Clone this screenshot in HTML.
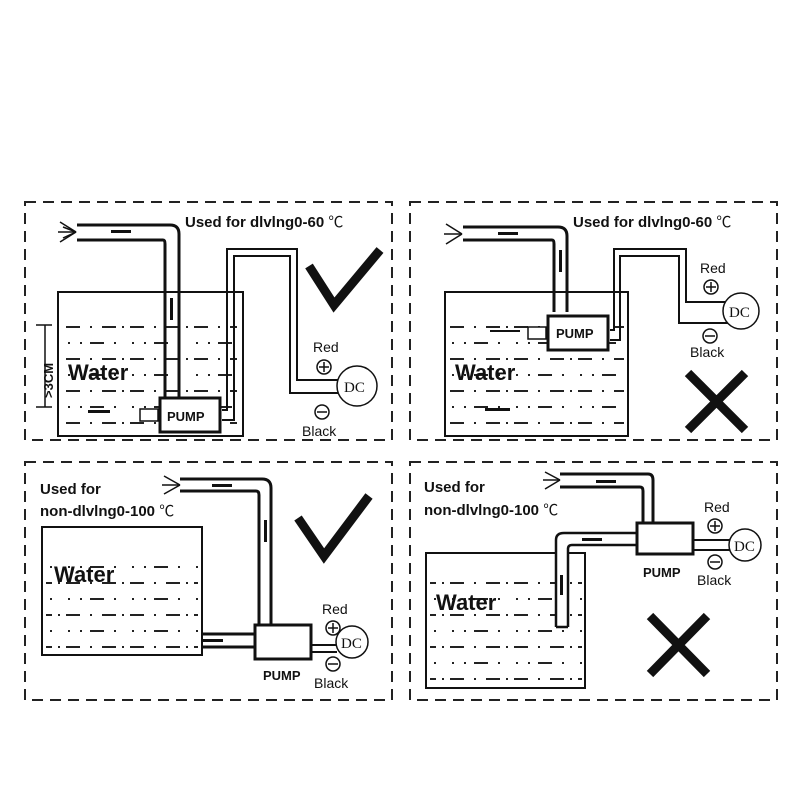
<!DOCTYPE html>
<html><head><meta charset="utf-8"><style>
body{margin:0;background:#fff}
svg{display:block}
text{font-family:"Liberation Sans",Arial,sans-serif;fill:#111}
.b{font-weight:bold}
.n{font-weight:normal;font-family:"Liberation Sans","Noto Sans CJK SC",sans-serif}
.dc{font-family:"Liberation Serif",serif;font-size:15px}
</style></head><body>
<svg width="800" height="800" viewBox="0 0 800 800" xmlns="http://www.w3.org/2000/svg">
<defs>
<pattern id="w" x="0" y="0" width="64" height="32" patternUnits="userSpaceOnUse">
<rect x="2" y="6" width="14" height="2" fill="#222"/>
<rect x="26" y="6" width="2" height="2" fill="#222"/>
<rect x="38" y="6" width="14" height="2" fill="#222"/>
<rect x="58" y="6" width="2" height="2" fill="#222"/>
<rect x="4" y="22" width="2" height="2" fill="#222"/>
<rect x="16" y="22" width="2" height="2" fill="#222"/>
<rect x="26" y="22" width="14" height="2" fill="#222"/>
<rect x="50" y="22" width="2" height="2" fill="#222"/>
</pattern>
</defs>
<g fill="none" stroke="#222" stroke-width="2" stroke-dasharray="11,7">
<rect x="25" y="202" width="367" height="238"/>
<rect x="410" y="202" width="367" height="238"/>
<rect x="25" y="462" width="367" height="238"/>
<rect x="410" y="462" width="367" height="238"/>
</g>

<!-- Panel 1 -->
<text x="185" y="227" class="b" font-size="15">Used for dlvlng0-60 <tspan class="n">℃</tspan></text>
<rect x="58" y="292" width="185" height="144" fill="none" stroke="#111" stroke-width="2"/>
<rect x="62" y="318" width="175" height="112" fill="url(#w)"/>
<text x="68" y="380" class="b" font-size="22">Water</text>
<path d="M77 225 H170 Q179 225 179 234 V398 M77 240 H163 Q165 240 165 244 V398" fill="none" stroke="#111" stroke-width="3"/>
<rect x="111" y="230" width="20" height="3" fill="#111"/>
<rect x="170" y="298" width="3" height="22" fill="#111"/>
<g stroke="#111" stroke-width="1.5"><line x1="76" y1="232" x2="60" y2="222"/><line x1="76" y1="232" x2="58" y2="232"/><line x1="76" y1="232" x2="60" y2="242"/><line x1="76" y1="232" x2="63" y2="227"/><line x1="76" y1="232" x2="63" y2="238"/></g>
<rect x="160" y="398" width="60" height="34" fill="#fff" stroke="#111" stroke-width="3"/>
<text x="167" y="421" class="b" font-size="13">PUMP</text>
<rect x="140" y="409" width="18" height="12" fill="#fff" stroke="#111" stroke-width="1.5"/>
<rect x="88" y="410" width="22" height="3" fill="#111"/>
<path d="M222 410 H227 V249 H297 V380 H338 M222 420 H234 V256 H290 V393 H340" fill="none" stroke="#111" stroke-width="2"/>
<circle cx="357" cy="386" r="20" fill="#fff" stroke="#111" stroke-width="1.5"/>
<text x="344" y="392" class="dc">DC</text>
<text x="313" y="352" font-size="14">Red</text>
<circle cx="324" cy="367" r="7" fill="none" stroke="#111" stroke-width="1.5"/><path d="M319 367h10M324 362v10" stroke="#111" stroke-width="1.5"/>
<circle cx="322" cy="412" r="7" fill="none" stroke="#111" stroke-width="1.5"/><path d="M317 412h10" stroke="#111" stroke-width="1.5"/>
<text x="302" y="436" font-size="14">Black</text>
<path d="M36 325 H52 M36 407 H52 M45 325 V407" stroke="#111" stroke-width="1.5"/>
<text transform="translate(53,398) rotate(-90)" class="b" font-size="13">&gt;3CM</text>
<path d="M309 266 L334 305 L380 250" fill="none" stroke="#111" stroke-width="9"/>

<!-- Panel 2 -->
<text x="573" y="227" class="b" font-size="15">Used for dlvlng0-60 <tspan class="n">℃</tspan></text>
<rect x="445" y="292" width="183" height="144" fill="none" stroke="#111" stroke-width="2"/>
<rect x="449" y="318" width="175" height="112" fill="url(#w)"/>
<text x="455" y="380" class="b" font-size="22">Water</text>
<path d="M463 227 H558 Q567 227 567 236 V312 M463 240 H552 Q554 240 554 244 V312" fill="none" stroke="#111" stroke-width="3"/>
<rect x="498" y="232" width="20" height="3" fill="#111"/>
<rect x="559" y="250" width="3" height="22" fill="#111"/>
<g stroke="#111" stroke-width="1.5"><line x1="462" y1="234" x2="446" y2="224"/><line x1="462" y1="234" x2="444" y2="234"/><line x1="462" y1="234" x2="446" y2="244"/></g>
<rect x="548" y="316" width="60" height="34" fill="#fff" stroke="#111" stroke-width="3"/>
<text x="556" y="338" class="b" font-size="13">PUMP</text>
<rect x="528" y="327" width="18" height="12" fill="#fff" stroke="#111" stroke-width="1.5"/>
<rect x="490" y="330" width="30" height="2" fill="#111"/>
<rect x="485" y="408" width="25" height="3" fill="#111"/>
<path d="M610 330 H614 V249 H686 V302 H726 M610 340 H620 V256 H679 V323 H728" fill="none" stroke="#111" stroke-width="2"/>
<circle cx="741" cy="311" r="18" fill="#fff" stroke="#111" stroke-width="1.5"/>
<text x="729" y="317" class="dc">DC</text>
<text x="700" y="273" font-size="14">Red</text>
<circle cx="711" cy="287" r="7" fill="none" stroke="#111" stroke-width="1.5"/><path d="M706 287h10M711 282v10" stroke="#111" stroke-width="1.5"/>
<circle cx="710" cy="336" r="7" fill="none" stroke="#111" stroke-width="1.5"/><path d="M705 336h10" stroke="#111" stroke-width="1.5"/>
<text x="690" y="357" font-size="14">Black</text>
<path d="M688 373 L745 430 M745 373 L688 430" stroke="#111" stroke-width="9"/>

<!-- Panel 3 -->
<text x="40" y="494" class="b" font-size="15">Used for</text>
<text x="40" y="516" class="b" font-size="15">non-dlvlng0-100 <tspan class="n">℃</tspan></text>
<rect x="42" y="527" width="160" height="128" fill="none" stroke="#111" stroke-width="2"/>
<rect x="46" y="552" width="152" height="100" fill="url(#w)"/>
<text x="54" y="582" class="b" font-size="22">Water</text>
<path d="M180 479 H262 Q271 479 271 488 V625 M180 491 H256 Q259 491 259 495 V625" fill="none" stroke="#111" stroke-width="3"/>
<rect x="212" y="484" width="20" height="3" fill="#111"/>
<rect x="264" y="520" width="3" height="22" fill="#111"/>
<g stroke="#111" stroke-width="1.5"><line x1="180" y1="485" x2="164" y2="476"/><line x1="180" y1="485" x2="162" y2="485"/><line x1="180" y1="485" x2="164" y2="494"/></g>
<path d="M202 634 H255 M202 647 H255" stroke="#111" stroke-width="3"/>
<rect x="203" y="639" width="20" height="3" fill="#111"/>
<rect x="255" y="625" width="56" height="34" fill="#fff" stroke="#111" stroke-width="3"/>
<text x="263" y="680" class="b" font-size="13">PUMP</text>
<path d="M311 645 H337 M311 652 H337" stroke="#111" stroke-width="2"/>
<circle cx="352" cy="642" r="16" fill="#fff" stroke="#111" stroke-width="1.5"/>
<text x="341" y="648" class="dc">DC</text>
<text x="322" y="614" font-size="14">Red</text>
<circle cx="333" cy="628" r="7" fill="none" stroke="#111" stroke-width="1.5"/><path d="M328 628h10M333 623v10" stroke="#111" stroke-width="1.5"/>
<circle cx="333" cy="664" r="7" fill="none" stroke="#111" stroke-width="1.5"/><path d="M328 664h10" stroke="#111" stroke-width="1.5"/>
<text x="314" y="688" font-size="14">Black</text>
<path d="M298 518 L324 556 L369 496" fill="none" stroke="#111" stroke-width="9"/>

<!-- Panel 4 -->
<text x="424" y="492" class="b" font-size="15">Used for</text>
<text x="424" y="515" class="b" font-size="15">non-dlvlng0-100 <tspan class="n">℃</tspan></text>
<rect x="426" y="553" width="159" height="135" fill="none" stroke="#111" stroke-width="2"/>
<rect x="430" y="578" width="152" height="106" fill="url(#w)"/>
<text x="436" y="610" class="b" font-size="22">Water</text>
<path d="M560 474 H648 Q653 474 653 480 V523 M560 487 H640 Q643 487 643 491 V523" fill="none" stroke="#111" stroke-width="3"/>
<rect x="596" y="480" width="20" height="3" fill="#111"/>
<g stroke="#111" stroke-width="1.5"><line x1="560" y1="480" x2="545" y2="472"/><line x1="560" y1="480" x2="543" y2="480"/><line x1="560" y1="480" x2="545" y2="489"/></g>
<rect x="557" y="546" width="10" height="80" fill="#fff"/>
<path d="M556 627 V540 Q556 533 564 533 H637 M568 627 V549 Q568 545 572 545 H637 M556 627 H568" fill="none" stroke="#111" stroke-width="2.5"/>
<rect x="582" y="538" width="20" height="3" fill="#111"/>
<rect x="560" y="575" width="3" height="20" fill="#111"/>
<rect x="637" y="523" width="56" height="31" fill="#fff" stroke="#111" stroke-width="3"/>
<text x="643" y="577" class="b" font-size="13">PUMP</text>
<path d="M693 540 H730 M693 550 H730" stroke="#111" stroke-width="2"/>
<circle cx="745" cy="545" r="16" fill="#fff" stroke="#111" stroke-width="1.5"/>
<text x="734" y="551" class="dc">DC</text>
<text x="704" y="512" font-size="14">Red</text>
<circle cx="715" cy="526" r="7" fill="none" stroke="#111" stroke-width="1.5"/><path d="M710 526h10M715 521v10" stroke="#111" stroke-width="1.5"/>
<circle cx="715" cy="562" r="7" fill="none" stroke="#111" stroke-width="1.5"/><path d="M710 562h10" stroke="#111" stroke-width="1.5"/>
<text x="697" y="585" font-size="14">Black</text>
<path d="M650 616 L707 674 M707 616 L650 674" stroke="#111" stroke-width="9"/>
</svg>
</body></html>
